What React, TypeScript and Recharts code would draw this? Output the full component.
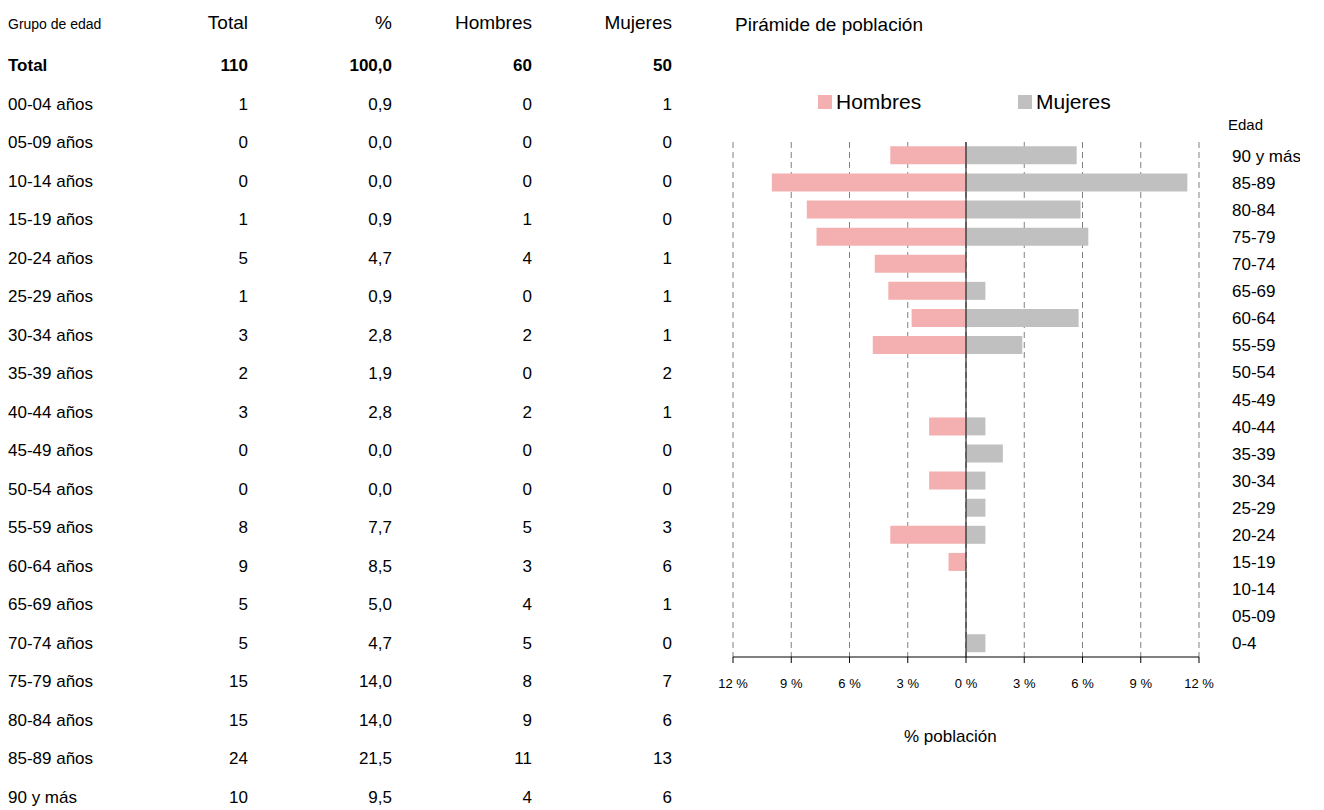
import React from "react";
import { BarChart, Bar, XAxis, YAxis, CartesianGrid, ReferenceLine } from "recharts";

const groups = ["Total","00-04 años","05-09 años","10-14 años","15-19 años","20-24 años","25-29 años","30-34 años","35-39 años","40-44 años","45-49 años","50-54 años","55-59 años","60-64 años","65-69 años","70-74 años","75-79 años","80-84 años","85-89 años","90 y más"];
const totals = ["110","1","0","0","1","5","1","3","2","3","0","0","8","9","5","5","15","15","24","10"];
const pcts = ["100,0","0,9","0,0","0,0","0,9","4,7","0,9","2,8","1,9","2,8","0,0","0,0","7,7","8,5","5,0","4,7","14,0","14,0","21,5","9,5"];
const men = ["60","0","0","0","1","4","0","2","0","2","0","0","5","3","4","5","8","9","11","4"];
const women = ["50","1","0","0","0","1","1","1","2","1","0","0","3","6","1","0","7","6","13","6"];

const ages = ["90 y más","85-89","80-84","75-79","70-74","65-69","60-64","55-59","50-54","45-49","40-44","35-39","30-34","25-29","20-24","15-19","10-14","05-09","0-4"];
const hombresPct = [3.9,10.0,8.2,7.7,4.7,4.0,2.8,4.8,0,0,1.9,0,1.9,0,3.9,0.9,0,0,0];
const mujeresPct = [5.7,11.4,5.9,6.3,0,1.0,5.8,2.9,0,0,1.0,1.9,1.0,1.0,1.0,0,0,0,1.0];
const xTicks = [-12,-9,-6,-3,0,3,6,9,12];

const data = ages.map((a, i) => ({ age: a, h: -hombresPct[i], m: mujeresPct[i] }));

const font = "Arial, 'Liberation Sans', sans-serif";
const colX = [248, 392, 532, 672];

export default function App() {
  const abs = { position: "absolute" as const, whiteSpace: "nowrap" as const };
  return (
    <div style={{ position: "absolute", left: 0, top: 0, width: 1324, height: 810, background: "#fff", fontFamily: font, color: "#000" }}>
      <div style={{ ...abs, left: 8, top: 16, fontSize: 14 }}>Grupo de edad</div>
      {["Total", "%", "Hombres", "Mujeres"].map((h, j) => (
        <div key={h} style={{ ...abs, left: colX[j] - 150, width: 150, textAlign: "right", top: 12, fontSize: 19 }}>{h}</div>
      ))}
      {groups.map((g, i) => {
        const top = 56 + i * 38.5;
        const bold = i === 0 ? 700 : 400;
        const vals = [totals[i], pcts[i], men[i], women[i]];
        return (
          <React.Fragment key={g}>
            <div style={{ ...abs, left: 8, top, fontSize: 17, fontWeight: bold }}>{g}</div>
            {vals.map((v, j) => (
              <div key={j} style={{ ...abs, left: colX[j] - 150, width: 150, textAlign: "right", top, fontSize: 17, fontWeight: bold }}>{v}</div>
            ))}
          </React.Fragment>
        );
      })}
      <div style={{ ...abs, left: 735, top: 14, fontSize: 19 }}>Pirámide de población</div>
      <div style={{ ...abs, left: 818, top: 90, fontSize: 21, display: "flex", alignItems: "center" }}>
        <span style={{ display: "inline-block", width: 14, height: 14, background: "#F4B0B0", marginRight: 4 }} />Hombres
      </div>
      <div style={{ ...abs, left: 1018, top: 90, fontSize: 21, display: "flex", alignItems: "center" }}>
        <span style={{ display: "inline-block", width: 14, height: 14, background: "#C0C0C0", marginRight: 4 }} />Mujeres
      </div>
      <div style={{ ...abs, left: 1228, top: 116, fontSize: 15 }}>Edad</div>
      <div style={{ ...abs, left: 904, top: 727, fontSize: 17 }}>% población</div>
      <div style={{ position: "absolute", left: 700, top: 130 }}>
        <BarChart width={600} height={580} data={data} layout="vertical" stackOffset="sign"
          margin={{ top: 12, right: 21, left: 33, bottom: 23 }} barCategoryGap="16%">
          <CartesianGrid horizontal={false} strokeDasharray="6 4" stroke="#808080" />
          <XAxis type="number" domain={[-12, 12]} ticks={xTicks} height={30} stroke="#000" dy={14}
            tickFormatter={(v: number) => `${Math.abs(v)} %`} tick={{ fontSize: 13, fill: "#000", fontFamily: font }} />
          <YAxis type="category" dataKey="age" orientation="right" width={80} axisLine={false} tickLine={false}
            tick={{ fontSize: 17, fill: "#000", fontFamily: font, textAnchor: "start" }} dx={25} interval={0} />
          <Bar dataKey="h" stackId="a" fill="#F4B0B0" isAnimationActive={false} />
          <Bar dataKey="m" stackId="a" fill="#C0C0C0" isAnimationActive={false} />
          <ReferenceLine x={0} stroke="#000" />
        </BarChart>
      </div>
    </div>
  );
}
